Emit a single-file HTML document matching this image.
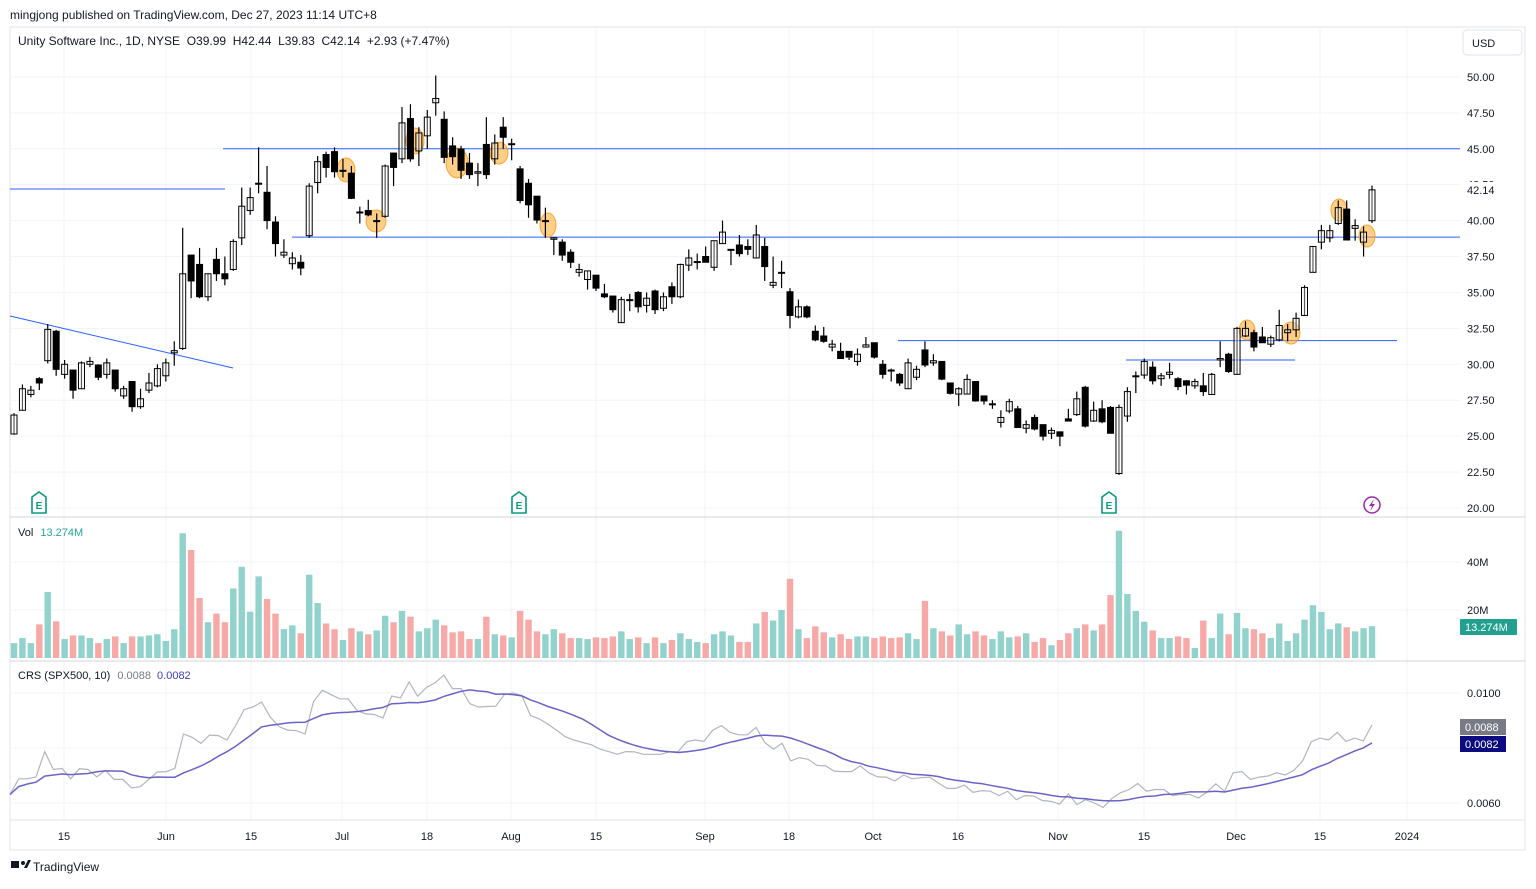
<!DOCTYPE html>
<html><head><meta charset="utf-8"><style>
body{margin:0;background:#fff;font-family:"Liberation Sans",sans-serif;}
svg text{font-family:"Liberation Sans",sans-serif;}
</style></head><body>
<svg id="c" width="1536" height="884" xmlns="http://www.w3.org/2000/svg">
<rect x="0" y="0" width="1536" height="884" fill="#fff"/>
<text x="10" y="19" font-size="12" fill="#131722">mingjong published on TradingView.com, Dec 27, 2023 11:14 UTC+8</text>
<rect x="10" y="27" width="1515" height="823" fill="none" stroke="#e0e3eb"/>
<g id="grid"></g>
<g id="lines"></g>
<g id="marks"></g>
<g id="candles"></g>
<g id="vol"></g>
<g id="crs"></g>
<g id="axes"></g>
<line x1="10" y1="517" x2="1525" y2="517" stroke="#d1d4dc"/>
<line x1="10" y1="661" x2="1525" y2="661" stroke="#d1d4dc"/>
<line x1="10" y1="820" x2="1525" y2="820" stroke="#e0e3eb"/>
<text x="18" y="45" font-size="12" fill="#131722" xml:space="preserve">Unity Software Inc., 1D, NYSE  O39.99  H42.44  L39.83  C42.14  +2.93 (+7.47%)</text>
<rect x="1463" y="30" width="59" height="25" rx="4" fill="#fff" stroke="#e0e3eb"/>
<text x="1472" y="47" font-size="11" fill="#131722">USD</text>
<text x="18" y="536" font-size="11" fill="#131722">Vol <tspan fill="#26a69a" dx="4">13.274M</tspan></text>
<text x="18" y="679" font-size="11" fill="#131722">CRS (SPX500, 10) <tspan fill="#787b86" dx="4">0.0088</tspan><tspan fill="#3f3fbf" dx="6">0.0082</tspan></text>
<g>
<rect x="11" y="861" width="8" height="7" fill="#131722"/><circle cx="23" cy="863" r="2" fill="#131722"/><path d="M24 868 L28 860 L31 860 L27 868 Z" fill="#131722"/>
<text x="33" y="871" font-size="12" fill="#131722">TradingView</text></g>
</svg>
<script>
const opens=[25.15,26.8,27.9,29.0,30.25,32.3,29.3,29.6,28.3,30.0,29.95,29.3,29.6,27.8,28.8,27.05,28.2,28.5,29.2,30.8,31.1,37.6,36.95,34.7,37.3,36.3,36.6,38.8,40.7,42.6,41.97,39.9,37.6,37.0,37.1,38.95,42.65,44.6,44.8,43.5,43.3,40.55,40.7,40.0,40.3,44.7,44.3,47.1,44.85,45.9,48.2,47.05,45.2,44.98,44.0,43.3,45.3,44.3,46.5,45.3,43.6,42.6,41.7,40.0,38.7,38.5,37.8,36.4,35.9,36.2,34.9,34.75,32.9,34.5,35.0,34.1,35.1,33.9,35.4,34.7,36.9,37.1,37.5,36.75,38.4,38.0,38.3,38.2,37.4,38.2,35.5,36.4,35.05,33.3,34.0,32.3,31.97,31.2,30.9,30.9,30.2,31.2,31.5,30.0,29.6,29.3,28.3,29.1,31.0,30.1,30.2,28.7,27.93,27.93,28.8,27.8,27.25,25.96,26.75,26.9,25.55,26.3,25.8,25.2,25.3,26.2,26.5,28.4,26.05,26.9,27.0,22.4,26.4,29.2,29.25,29.8,29.0,29.3,29.0,28.85,28.5,28.5,27.9,30.3,30.7,29.3,31.97,32.2,31.9,31.4,31.7,32.2,32.4,33.4,36.4,38.5,38.8,39.8,40.8,39.46,38.5,39.99];
const highs=[26.6,28.6,28.5,29.1,32.8,32.4,30.3,29.6,30.2,30.5,30.0,30.4,29.6,28.5,28.8,28.3,29.4,30.0,30.4,31.6,39.5,37.6,38.1,36.3,38.1,37.5,38.7,42.3,42.3,45.1,43.8,40.3,38.7,37.8,37.6,42.6,44.5,44.8,45.1,44.3,43.8,40.97,41.45,40.5,43.9,44.7,47.9,48.1,46.5,47.7,50.1,47.6,45.8,45.2,44.7,44.0,47.2,46.0,47.2,45.7,43.8,42.9,41.7,40.9,38.8,38.7,38.0,37.0,36.5,36.2,35.6,34.75,34.7,34.9,35.1,35.0,35.2,35.0,35.7,37.0,38.0,37.7,38.2,38.6,40.0,38.0,39.0,38.7,39.7,38.8,37.5,37.2,35.3,34.5,34.1,32.7,32.6,31.7,31.5,30.9,31.1,31.9,31.5,30.3,29.7,29.4,30.4,29.9,31.6,30.7,30.2,28.7,28.4,29.3,28.8,27.8,27.5,26.8,27.6,27.1,26.1,26.5,25.8,25.6,25.3,26.9,28.1,28.5,27.4,27.5,27.1,27.2,28.4,29.5,30.4,30.2,29.4,30.1,29.1,28.9,29.0,29.4,29.4,31.6,30.8,32.6,33.0,32.4,32.6,32.0,33.8,32.8,33.6,35.5,38.2,39.7,39.7,41.4,41.4,40.1,39.6,42.44];
const lows=[25.1,26.8,27.7,28.2,30.06,29.2,29.0,27.6,28.3,29.8,28.9,29.0,28.1,27.6,26.7,26.9,28.0,28.4,28.8,29.9,31.0,34.6,34.6,34.4,35.8,35.5,36.5,38.3,40.4,41.9,39.4,37.5,37.4,36.6,36.2,38.8,41.9,43.0,43.0,43.0,41.5,39.8,40.3,38.8,40.2,42.4,44.0,44.1,43.8,45.0,47.3,44.0,43.9,42.9,42.9,42.4,42.9,43.9,45.0,44.2,41.2,40.2,39.8,38.8,37.6,37.2,36.7,36.1,35.2,35.1,34.6,33.6,32.9,33.7,33.6,33.6,33.5,33.7,34.2,34.6,36.5,36.6,37.1,36.5,38.4,36.9,37.5,37.6,37.4,35.8,35.3,35.3,32.5,33.2,33.2,31.6,31.5,30.9,30.4,30.3,29.9,31.2,30.4,29.0,28.8,28.5,28.3,28.9,29.8,29.9,28.9,27.9,27.1,27.9,27.4,27.2,26.9,25.6,26.6,25.6,25.2,25.4,24.7,24.8,24.3,26.05,26.4,25.6,26.0,25.9,25.2,22.3,26.0,28.0,29.0,28.6,28.5,29.0,28.2,27.9,28.3,27.8,27.9,29.8,29.4,29.3,31.9,30.9,31.5,31.2,31.6,31.6,31.9,33.4,36.4,38.0,38.5,39.7,38.65,38.6,37.5,39.83];
const closes=[26.47,28.3,28.2,28.7,32.43,29.65,30.0,28.2,30.1,30.2,29.1,30.1,28.3,28.3,27.05,27.6,28.7,29.7,30.1,30.95,36.3,35.8,34.7,36.3,36.3,35.95,38.55,41.0,41.6,42.6,40.0,38.4,37.8,37.4,36.7,42.4,44.1,43.7,43.4,43.5,41.55,40.6,40.4,40.0,43.8,43.7,46.8,44.3,46.1,47.2,48.5,44.4,44.45,43.5,43.2,43.4,43.2,45.4,45.8,45.35,41.4,41.1,40.04,40.0,38.8,37.6,37.1,36.6,36.5,35.3,34.7,33.8,34.5,34.5,34.0,34.6,33.8,34.7,34.7,36.95,37.4,37.15,37.1,38.6,39.2,38.0,37.7,38.0,39.0,36.8,35.7,36.4,33.4,34.0,33.3,31.7,31.6,31.4,30.4,30.5,30.7,31.35,30.5,29.3,29.55,28.7,30.1,29.65,29.95,30.25,28.97,27.98,28.3,28.95,27.45,27.45,27.25,26.3,27.4,25.6,25.8,25.5,25.0,25.4,25.0,26.05,27.6,25.7,26.8,26.0,25.2,27.0,28.1,29.2,30.2,28.85,29.2,29.45,28.45,28.55,28.8,28.1,29.3,30.4,29.5,32.5,32.5,31.2,31.5,31.85,32.7,32.4,33.2,35.35,38.2,39.3,39.3,40.9,38.65,39.65,39.2,42.14];
const volumesM=[6.2,8.3,6.2,14,27.5,15.3,7.9,9.4,9.4,8.3,6.2,7.9,9,6.2,9,9,9.4,9.9,7.1,12,52,45,25,14.9,18.5,14.9,29,38,19.3,34,24.6,18.5,12,13.6,10.3,34.7,22.9,14.4,12,7.5,12.4,11.1,9.9,11.5,17.6,14.9,19.6,17.2,11.1,12.4,16,13.6,10.7,11.1,7.9,7.9,17.2,9.9,9.4,8.6,19.6,16,11.1,9.9,12,10.3,8.3,8.3,7.9,8.6,8.3,9,11.1,7.9,8.6,6.2,8.6,6.2,7.5,10.3,7.9,6.7,6.2,9.9,11.1,9.4,6.7,6.7,14.4,19.2,15.6,20,33,12,8.3,13.2,10.7,8.6,9.9,7.9,9,9,8.3,9,8.3,8.6,10.3,7.9,23.8,12.4,11.1,9.4,14,9.9,11.1,9.4,7.9,11.1,8.6,9,10.3,6.7,8.3,5.3,7.5,10.3,12.4,14,11.5,14,26.2,53,26.7,19.6,15.1,11.5,8.3,8.3,9,8.3,4.2,15.6,8.3,18.5,9.9,18.8,12.4,12,10.3,8.3,14.4,7.1,10.3,16,22,19.2,12,14.4,12.8,11.1,12.4,13.274];
const crsE4=[63.1,68.8,68.8,69.5,78.7,72.2,72.6,68.8,72.5,72.2,69.5,71.9,68.6,68.6,65.5,65.9,68.6,71.3,71.4,72.6,85.1,83.9,81.7,84.7,84.5,82.9,88.2,94.0,94.9,96.7,91.2,87.8,86.5,86.3,85.1,96.9,101.0,99.4,97.9,97.8,93.6,92.4,92.2,90.9,98.9,98.2,104.0,98.8,102.0,103.7,106.5,101.6,101.6,96.1,94.9,95.1,95.2,99.5,100,99.1,91.8,90.6,88.7,86.5,84.1,82.9,82.0,81.2,79.6,78.7,77.7,78.7,78.6,77.7,77.7,77.7,78.6,78.7,82.3,82.9,82.4,86.5,88.1,85.7,84.8,84.8,87.5,82.0,79.6,81.7,75.3,76.5,75.9,73.7,73.5,71.6,71.4,71.4,73.5,71.0,69.5,69.4,68.0,70.2,68.8,69.2,69.4,67.3,65.3,65.3,66.5,63.9,64.5,64.3,62.7,64.3,61.2,62.7,62.5,60.9,60.6,59.6,63.3,59.4,61.2,60.0,58.4,61.6,63.7,64.9,67.1,64.3,64.9,64.9,62.7,63.1,63.1,61.8,64.0,67.0,64.3,71.0,71.4,68.6,69.4,69.8,71.0,70.2,71.9,75.3,82.3,83.6,82.9,85.7,82.4,83.6,82.6,88.4];
const priceTicks=[50,47.5,45,42.5,40,37.5,35,32.5,30,27.5,25,22.5,20];
const timeLabels=["15","Jun","15","Jul","18","Aug","15","Sep","18","Oct","16","Nov","15","Dec","15","2024"];
const timeLabelX=[64,166,251,342,427,511,596,705,789,873,958,1058,1144,1236,1320,1407];
const levels=[45.0,38.85,31.65,30.3];

const NS="http://www.w3.org/2000/svg";
function el(t,a,p){const e=document.createElementNS(NS,t);for(const k in a)e.setAttribute(k,a[k]);(p||document.getElementById('c')).appendChild(e);return e;}
const X0=14,DX=(1372-14)/(closes.length-1);
const xb=i=>X0+DX*i;
const yp=p=>508-(p-20)*14.37;
const yv=v=>658-v*2.4;
const yc=v=>693+(100-v)*2.75;
const G=id=>document.getElementById(id);

timeLabelX.forEach((x,i)=>{const l=el('line',{x1:x,y1:27,x2:x,y2:820,stroke:'#f0f3fa'},G('grid'));

});
priceTicks.forEach(p=>{const l=el('line',{x1:10,y1:yp(p),x2:1460,y2:yp(p),stroke:'#f0f3fa'},G('grid'));

});
[40,20].forEach(v=>{const l=el('line',{x1:10,y1:yv(v),x2:1460,y2:yv(v),stroke:'#f0f3fa'},G('grid'));

});
[100,80,60].forEach(v=>{const l=el('line',{x1:10,y1:yc(v),x2:1460,y2:yc(v),stroke:'#f0f3fa'},G('grid'));

});

const ln=[[223,1460,levels[0]],[292,1460,levels[1]],[898,1397,levels[2]],[1126,1295,levels[3]]];
ln.forEach(a=>{const l=el('line',{x1:a[0],x2:a[1],y1:yp(a[2]),y2:yp(a[2]),stroke:'#2962ff','stroke-width':1},G('lines'));

});
let l2=el('line',{x1:10,x2:225,y1:189,y2:189,stroke:'#2962ff'},G('lines'));


let tl=el('line',{x1:10,y1:316,x2:233,y2:368,stroke:'#2962ff'},G('lines'));



[[346,170,9,12],[376,221,10,11],[415,141,9,13],[457,163,11,15],[499,153,9,11],[548,225,8,12],[1247,330,8,10],[1291,333,9,11],[1339,210,8,11],[1367,236,8,11]].forEach(m=>{
const e=el('ellipse',{cx:m[0],cy:m[1],rx:m[2],ry:m[3],fill:'rgba(255,167,38,0.55)',stroke:'rgba(245,150,20,0.8)'},G('marks'));

});

for(let i=0;i<closes.length;i++){
const x=xb(i),o=opens[i],c=closes[i],up=c>=o;
const g=el('g',{},G('candles'));


el('line',{x1:x,x2:x,y1:yp(highs[i]),y2:yp(lows[i]),stroke:'#000','stroke-width':1.2},g);
const t=yp(Math.max(o,c)),b=yp(Math.min(o,c));
el('rect',{x:x-3,y:t,width:6,height:Math.max(b-t,1),fill:up?'#fff':'#000','fill-opacity':up?0.35:1,stroke:'#000','stroke-width':1},g);
const r=el('rect',{x:x-3.2,y:yv(volumesM[i]),width:6.4,height:volumesM[i]*2.4,fill:up?'#92d2cc':'#f7a9a7'},G('vol'));


}

const n=crsE4.length,cx=k=>10+k*(1372-10)/(n-1);
let d1='',d2='';
for(let k=0;k<n;k++){
const s=crsE4.slice(Math.max(0,k-9),k+1);const m=s.reduce((a,b)=>a+b,0)/s.length;
d1+=(k?'L':'M')+cx(k).toFixed(1)+' '+yc(crsE4[k]).toFixed(1);
d2+=(k?'L':'M')+cx(k).toFixed(1)+' '+yc(m).toFixed(1);}
const p1=el('path',{d:d1,fill:'none',stroke:'#b2b5be','stroke-width':1.2},G('crs'));


const p2=el('path',{d:d2,fill:'none',stroke:'#6a62c8','stroke-width':1.5},G('crs'));



const A=G('axes');
priceTicks.forEach(p=>{const t=el('text',{x:1467,y:yp(p)+4,'font-size':11,fill:'#131722'},A);t.textContent=p.toFixed(2);

});
let cr=el('rect',{x:1462,y:182,width:50,height:16,fill:'#fff'},A);


let ct=el('text',{x:1467,y:194,'font-size':11,fill:'#131722'},A);ct.textContent='42.14';


[['40M',40],['20M',20]].forEach(a=>{const t=el('text',{x:1467,y:yv(a[1])+4,'font-size':11,fill:'#131722'},A);t.textContent=a[0];

});
let vb=el('rect',{x:1460,y:619,width:57,height:16,fill:'#22a08f',rx:1},A);


let vt=el('text',{x:1465,y:631,'font-size':11,fill:'#fff'},A);vt.textContent='13.274M';


[['0.0100',100],['0.0060',60]].forEach(a=>{const t=el('text',{x:1467,y:yc(a[1])+4,'font-size':11,fill:'#131722'},A);t.textContent=a[0];

});
let b1=el('rect',{x:1460,y:719,width:46,height:16,fill:'#787b86'},A);


let t1=el('text',{x:1465,y:731,'font-size':11,fill:'#fff'},A);t1.textContent='0.0088';


let b2=el('rect',{x:1460,y:736,width:46,height:16,fill:'#0c0c80'},A);


let t2=el('text',{x:1465,y:748,'font-size':11,fill:'#fff'},A);t2.textContent='0.0082';


timeLabels.forEach((s,i)=>{const t=el('text',{x:timeLabelX[i],y:840,'font-size':11,fill:'#131722','text-anchor':'middle'},A);t.textContent=s;

});

[39,519,1109].forEach(x=>{const g=el('g',{},A);


el('path',{d:`M${x-7} ${497} L${x} ${492} L${x+7} ${497} L${x+7} ${513} L${x-7} ${513} Z`,fill:'#fff',stroke:'#089981','stroke-width':1.6},g);
const t=el('text',{x:x,y:509,'font-size':10,fill:'#089981','text-anchor':'middle','font-weight':'bold'},g);t.textContent='E';});
const lg=el('g',{},A);


el('circle',{cx:1372,cy:505,r:8,fill:'#fff',stroke:'#9c27b0','stroke-width':1.5},lg);
el('path',{d:'M1374 499 L1369 506 L1372 506 L1370 511 L1375 504 L1372 504 Z',fill:'#9c27b0'},lg);
</script>
</body></html>
